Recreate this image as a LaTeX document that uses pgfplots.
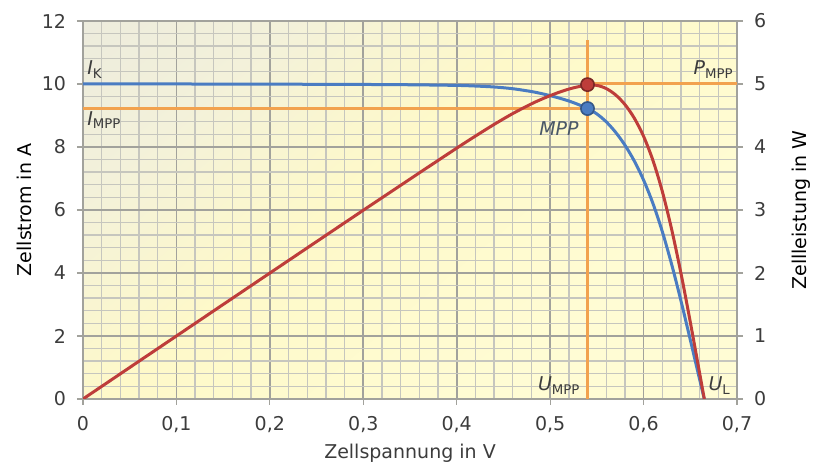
\documentclass[border=0pt]{standalone}
\usepackage{fontspec}
\setmainfont{DejaVu Sans}
\usepackage{pgfplots}
\pgfplotsset{compat=1.18}

\definecolor{BgGray}{HTML}{E6E6E0}
\definecolor{BgLight}{HTML}{F3F1DA}
\definecolor{BgMid}{HTML}{FEF9C9}
\definecolor{BgYellow}{HTML}{FFFCD4}
\definecolor{GridMinor}{HTML}{C6C6BE}
\definecolor{GridMajor}{HTML}{A2A29C}
\definecolor{CurveBlue}{HTML}{4A7CC2}
\definecolor{CurveRed}{HTML}{BE3D3A}
\definecolor{MppOrange}{HTML}{F2A24E}
\definecolor{LabelGray}{HTML}{3C3C3C}
\definecolor{MppSlate}{HTML}{4A5868}

% Hintergrund: oben links grau, sonst gelb
\pgfdeclareverticalshading{bgshade}{100bp}{%
  color(0bp)=(BgYellow); color(30bp)=(BgYellow); color(55bp)=(BgMid);
  color(72bp)=(BgLight); color(100bp)=(BgGray)}

% I-V-Kennlinie (Zellspannung in V, Zellstrom in A)
\pgfplotstableread{
V      I
0      10.00
0.05   10.00
0.10   10.00
0.15   9.998
0.20   9.995
0.25   9.99
0.30   9.985
0.35   9.975
0.40   9.955
0.42   9.935
0.44   9.905
0.46   9.85
0.48   9.76
0.49   9.70
0.50   9.63
0.51   9.55
0.52   9.46
0.53   9.35
0.54   9.22
0.55   9.05
0.56   8.80
0.57   8.47
0.58   8.06
0.59   7.56
0.60   6.95
0.61   6.21
0.62   5.32
0.63   4.28
0.64   3.12
0.65   1.88
0.66   0.62
0.665  0.00
}\ivdata

% Leistungskurve (Zellspannung in V, Zellleistung in W)
\pgfplotstableread{
V      P
0      0
0.05   0.500
0.10   1.000
0.15   1.500
0.20   1.999
0.25   2.498
0.30   2.996
0.35   3.491
0.40   3.982
0.42   4.173
0.44   4.358
0.46   4.531
0.48   4.685
0.49   4.753
0.50   4.815
0.51   4.871
0.52   4.919
0.53   4.956
0.54   4.979
0.55   4.978
0.56   4.928
0.57   4.828
0.58   4.675
0.59   4.460
0.60   4.170
0.61   3.788
0.62   3.298
0.63   2.696
0.64   1.997
0.65   1.222
0.66   0.409
0.665  0
}\pvdata

\begin{document}
\begin{tikzpicture}[font=\fontsize{9.5}{11}\selectfont]
\pgfplotsset{
  common/.style={
    width=327pt, height=189pt, scale only axis,
    xmin=0, xmax=0.7,
    tick align=outside,
    major tick length=3pt,
    minor tick length=0pt,
    tick style={GridMajor, line width=0.6pt},
    tick label style={LabelGray},
    label style={LabelGray},
    /pgf/number format/use comma,
    /pgf/number format/assume math mode=true,
  },
}
\begin{axis}[
  common,
  ymin=0, ymax=12,
  xtick={0,0.1,0.2,0.3,0.4,0.5,0.6,0.7},
  ytick={0,2,4,6,8,10,12},
  minor x tick num=4,
  minor y tick num=4,
  xtick pos=bottom,
  ytick pos=left,
  grid=both,
  minor grid style={GridMinor, line width=0.7pt},
  major grid style={GridMajor, line width=0.8pt},
  axis line style={GridMajor, line width=0.8pt},
  axis background/.style={shade, shading=bgshade, shading angle=40},
  xticklabel style={yshift=-2pt},
  yticklabel style={xshift=-2pt},
  xlabel={Zellspannung in V},
  ylabel={Zellstrom in A},
  every axis y label/.style={at={(ticklabel cs:0.5)}, rotate=90, anchor=south},
  ylabel shift=-2pt,
  xlabel shift=-1pt,
]
% Hilfslinien MPP
\addplot[MppOrange, line width=1.5pt, forget plot] coordinates {(0,9.22) (0.54,9.22)};
\addplot[MppOrange, line width=1.5pt, forget plot] coordinates {(0.54,0) (0.54,11.4)};
% Strom-Kennlinie
\addplot[CurveBlue, line width=1.5pt, smooth, tension=0.5] table[x=V, y=I] {\ivdata};
\addplot[only marks, mark=*, mark size=3.3pt,
  mark options={fill=CurveBlue, draw=CurveBlue!70!black, line width=0.8pt}]
  coordinates {(0.54,9.22)};

\node[anchor=west, LabelGray, inner sep=1pt] at (axis cs:0.002,10.45) {\textit{I}\textsubscript{K}};
\node[anchor=west, LabelGray, inner sep=1pt] at (axis cs:0.002,8.85) {\textit{I}\textsubscript{MPP}};
\node[anchor=east, MppSlate, inner sep=1pt] at (axis cs:0.533,8.6) {\textit{MPP}};
\node[anchor=south east, LabelGray, inner sep=1pt] at (axis cs:0.535,0.08) {\textit{U}\textsubscript{MPP}};
\node[anchor=south west, LabelGray, inner sep=1pt] at (axis cs:0.667,0.08) {\textit{U}\textsubscript{L}};
\node[anchor=south east, LabelGray, inner sep=1pt] at (axis cs:0.699,10.1) {\textit{P}\textsubscript{MPP}};
\end{axis}

\begin{axis}[
  common,
  ymin=0, ymax=6,
  ytick={0,1,2,3,4,5,6},
  axis x line=none,
  axis y line*=right,
  axis line style={-, draw=none},
  yticklabel style={xshift=2pt},
  ylabel={Zellleistung in W},
  every axis y label/.style={at={(ticklabel cs:0.5)}, rotate=90, anchor=north},
  ylabel shift=6pt,
]
\addplot[MppOrange, line width=1.5pt, forget plot] coordinates {(0.54,5.0) (0.7,5.0)};
% Leistungskurve
\addplot[CurveRed, line width=1.5pt, smooth, tension=0.5] table[x=V, y=P] {\pvdata};
\addplot[only marks, mark=*, mark size=3.3pt,
  mark options={fill=CurveRed, draw=CurveRed!65!black, line width=0.8pt}]
  coordinates {(0.54,4.99)};
\end{axis}

\pgfresetboundingbox
\path ([shift={(-41.5pt,-34pt)}]current axis.south west)
  rectangle ([shift={(39.5pt,10.5pt)}]current axis.north east);
\end{tikzpicture}
\end{document}
